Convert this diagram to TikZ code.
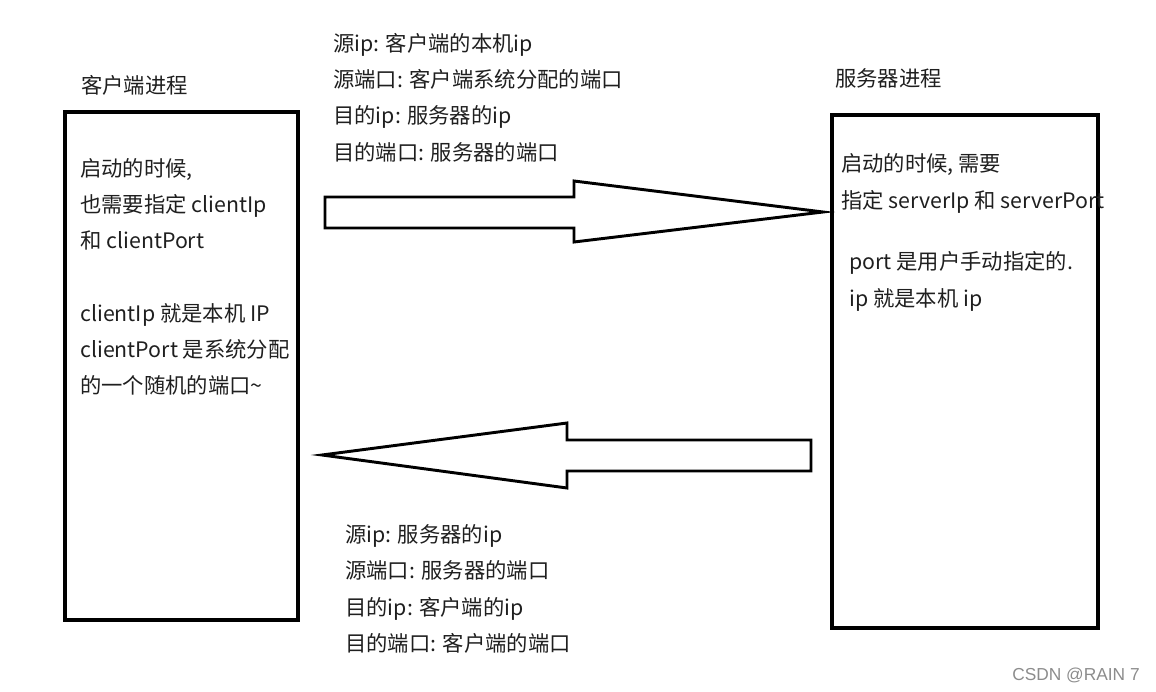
\documentclass[tikz,border=0pt]{standalone}
\usepackage{fontspec}
\setmainfont{Noto Sans CJK SC}
\newfontfamily\markfont{Liberation Sans}
\begin{document}
\begin{tikzpicture}[x=0.75pt,y=-0.75pt,
  procbox/.style={draw,line width=3pt,inner sep=0pt},
  txt/.style={anchor=west,align=left,inner sep=0pt,text=black!88,
    font=\fontsize{16}{27.2}\selectfont},
  fatarrow/.style={draw,line width=2.2pt,line join=miter,fill=white}]
  \useasboundingbox (0,0) rectangle (1156,692);

  % titles
  \node[txt] (clienttitle) at (81,85) {客户端进程};
  \node[txt] (servertitle) at (835,78) {服务器进程};

  % process boxes
  \node[procbox,minimum width=174.75pt,minimum height=381pt] (client) at (181.5,366) {};
  \node[procbox,minimum width=199.5pt,minimum height=384.75pt] (server) at (964.5,371.5) {};

  \node[txt] (clientnote) at (80,277)
    {启动的时候,\\也需要指定 clientIp\\和 clientPort\\[27.2pt]clientIp 就是本机 IP\\clientPort 是系统分配\\的一个随机的端口\textasciitilde};
  \node[txt] (servernote) at (841,183.5)
    {启动的时候, 需要\\指定 serverIp 和 serverPort};
  \node[txt] (serverport) at (849,281.5)
    {port 是用户手动指定的.\\ip 就是本机 ip};

  % request: client -> server
  \draw[fatarrow] (325,197) -- (574,197) -- (574,181) -- (823,212)
    -- (574,242) -- (574,228) -- (325,228) -- cycle;
  \node[txt] (request) at (333,97.5)
    {源ip: 客户端的本机ip\\源端口: 客户端系统分配的端口\\目的ip: 服务器的ip\\目的端口: 服务器的端口};

  % response: server -> client
  \draw[fatarrow] (811,440) -- (567,440) -- (567,423) -- (322,455)
    -- (567,488) -- (567,471) -- (811,471) -- cycle;
  \node[txt] (response) at (345,589)
    {源ip: 服务器的ip\\源端口: 服务器的端口\\目的ip: 客户端的ip\\目的端口: 客户端的端口};

  \node[anchor=west,inner sep=0pt,text=black!45,font=\markfont\fontsize{13}{15}\selectfont]
    (watermark) at (1012,675) {CSDN @RAIN 7};
\end{tikzpicture}
\end{document}
